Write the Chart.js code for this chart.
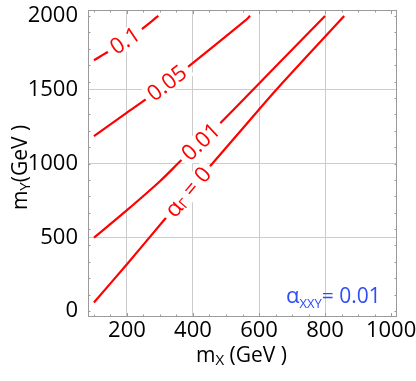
<!DOCTYPE html>
<html>
<head>
<meta charset="utf-8">
<script src="https://cdn.jsdelivr.net/npm/chart.js@4.4.0/dist/chart.umd.min.js"></script>
<style>
html, body { margin: 0; padding: 0; background: #fff; }
#wrap { width: 416px; height: 381px; }
</style>
</head>
<body>
<div id="wrap"><canvas id="chart"></canvas></div>
<script>
// contour lines of alpha_Gamma (GeV)
var levelNames = ["0.1", "0.05", "0.01", "0"];
var mX_a01 = [100, 152, 239, 295];
var mY_a01 = [1700, 1770, 1901, 2000];
var mX_a005 = [100, 200, 260, 386, 558, 573];
var mY_a005 = [1185, 1345, 1439, 1657, 1968, 2000];
var mX_a001 = [100, 200, 300, 366, 477, 542, 800];
var mY_a001 = [497, 684, 880, 1025, 1260, 1408, 2000];
var mX_a0 = [100, 200, 310, 457, 542, 651, 858];
var mY_a0 = [58, 318, 610, 995, 1215, 1497, 2000];
// m_X where each contour label sits
var labelAtX = [194, 321, 424, 385];

var xTicks = [200, 400, 600, 800, 1000];
var yTicks = [0, 500, 1000, 1500, 2000];

var FONT = "'Open Sans', 'Noto Sans', sans-serif";
var RED = "#ff0000";
var BLUE = "#2f4cf5";

var curvesX = [mX_a01, mX_a005, mX_a001, mX_a0];
var curvesY = [mY_a01, mY_a005, mY_a001, mY_a0];

function toPoints(xs, ys) {
    return xs.map(function (x, i) { return { x: x, y: ys[i] }; });
}

function interpY(xs, ys, x) {
    for (var i = 0; i < xs.length - 1; i++) {
        if (x >= xs[i] && x <= xs[i + 1]) {
            var t = (x - xs[i]) / (xs[i + 1] - xs[i]);
            return ys[i] + t * (ys[i + 1] - ys[i]);
        }
    }
    return ys[ys.length - 1];
}

// draw a run of text pieces: [text, size, drop]
function drawParts(ctx, parts, x, y, align) {
    var total = 0;
    parts.forEach(function (p) {
        ctx.font = p[1] + "px " + FONT;
        p.w = ctx.measureText(p[0]).width;
        total += p.w;
    });
    var cx = align === "center" ? x - total / 2 : x;
    parts.forEach(function (p) {
        ctx.font = p[1] + "px " + FONT;
        ctx.fillText(p[0], cx, y + p[2]);
        cx += p.w;
    });
    return total;
}

function measureParts(ctx, parts) {
    var total = 0;
    parts.forEach(function (p) {
        ctx.font = p[1] + "px " + FONT;
        total += ctx.measureText(p[0]).width;
    });
    return total;
}

var contourLabels = {
    id: "contourLabels",
    afterDatasetsDraw: function (chart) {
        var ctx = chart.ctx, sx = chart.scales.x, sy = chart.scales.y;
        levelNames.forEach(function (name, i) {
            var xs = curvesX[i], ys = curvesY[i], ax = labelAtX[i];
            var px = sx.getPixelForValue(ax);
            var py = sy.getPixelForValue(interpY(xs, ys, ax));
            var x1 = sx.getPixelForValue(ax - 25), y1 = sy.getPixelForValue(interpY(xs, ys, ax - 25));
            var x2 = sx.getPixelForValue(ax + 25), y2 = sy.getPixelForValue(interpY(xs, ys, ax + 25));
            var ang = Math.atan2(y2 - y1, x2 - x1);
            var parts = name === "0"
                ? [["\u03b1", 23, 0], ["\u0393", 14, 4], [" = 0", 22, 0]]
                : [[name, 22, 0]];
            var w = measureParts(ctx, parts);
            ctx.save();
            ctx.translate(px, py);
            ctx.rotate(ang);
            ctx.fillStyle = "#fff";
            ctx.fillRect(-w / 2 - 5, -10, w + 10, 20);
            ctx.fillStyle = RED;
            ctx.textBaseline = "middle";
            drawParts(ctx, parts, 0, 1, "center");
            ctx.restore();
        });
    }
};

var frameAndTitles = {
    id: "frameAndTitles",
    afterDraw: function (chart) {
        var ctx = chart.ctx, a = chart.chartArea, sx = chart.scales.x, sy = chart.scales.y;
        ctx.save();
        ctx.strokeStyle = "#9a9a9a";
        ctx.lineWidth = 1;
        ctx.strokeRect(Math.round(a.left) + 0.5, Math.round(a.top) + 0.5,
            Math.round(a.right - a.left) - 1, Math.round(a.bottom - a.top) - 1);
        ctx.beginPath();
        var v, p, len;
        for (v = 100; v <= 1000; v += 50) {
            p = Math.round(sx.getPixelForValue(v)) + 0.5;
            len = v % 200 === 0 ? 4 : 2.5;
            ctx.moveTo(p, a.bottom); ctx.lineTo(p, a.bottom - len);
            ctx.moveTo(p, a.top); ctx.lineTo(p, a.top + len);
        }
        for (v = 0; v <= 2000; v += 2000 / 18) {
            p = Math.round(sy.getPixelForValue(v)) + 0.5;
            ctx.moveTo(a.left, p); ctx.lineTo(a.left + 2.5, p);
            ctx.moveTo(a.right, p); ctx.lineTo(a.right - 2.5, p);
        }
        ctx.stroke();

        // axis titles
        ctx.fillStyle = "#000";
        ctx.textBaseline = "alphabetic";
        drawParts(ctx, [["m", 21, 0], ["X", 15, 3], [" (GeV )", 21, 0]],
            (a.left + a.right) / 2 - 1, 362, "center");
        ctx.save();
        ctx.translate(27, (a.top + a.bottom) / 2 + 4);
        ctx.rotate(-Math.PI / 2);
        drawParts(ctx, [["m", 21, 0], ["Y", 15, 3], ["(GeV )", 21, 0]], 0, 0, "center");
        ctx.restore();

        // coupling note
        ctx.fillStyle = BLUE;
        drawParts(ctx, [["\u03b1", 22, 0], ["XXY", 13, 5], ["= 0.01", 21, 0]], 286, 303, "left");
        ctx.restore();
    }
};

function gridColor(keep) {
    return function (c) {
        return c.tick && keep.indexOf(c.tick.value) >= 0 ? "#cccccc" : "rgba(0,0,0,0)";
    };
}

function plainLabel(v) { return String(v); }

function noEdgePadding(s) {
    s.paddingTop = 0; s.paddingBottom = 0;
    s.paddingLeft = 0; s.paddingRight = 0;
}

var datasets = levelNames.map(function (name, i) {
    return {
        label: name,
        data: toPoints(curvesX[i], curvesY[i]),
        showLine: true,
        borderColor: RED,
        borderWidth: 2.2,
        pointRadius: 0,
        tension: 0.3,
        fill: false
    };
});

new Chart(document.getElementById("chart"), {
    type: "scatter",
    data: { datasets: datasets },
    options: {
        responsive: true,
        maintainAspectRatio: false,
        animation: false,
        layout: { padding: { top: 10, right: 19, left: 0, bottom: 0 } },
        plugins: { legend: { display: false }, tooltip: { enabled: false } },
        scales: {
            x: {
                type: "linear",
                min: 82,
                max: 1018,
                afterBuildTicks: function (s) { s.ticks = xTicks.map(function (v) { return { value: v }; }); },
                afterFit: function (s) { s.height = 64; noEdgePadding(s); },
                ticks: { color: "#000", font: { family: FONT, size: 22 }, padding: 1, maxRotation: 0, autoSkip: false, callback: plainLabel },
                grid: { color: gridColor([200, 400, 600, 800]), drawTicks: false },
                border: { display: false }
            },
            y: {
                type: "linear",
                min: -40,
                max: 2040,
                afterBuildTicks: function (s) { s.ticks = yTicks.map(function (v) { return { value: v }; }); },
                afterFit: function (s) { s.width = 88; noEdgePadding(s); },
                ticks: { color: "#000", font: { family: FONT, size: 22 }, padding: 10, autoSkip: false, callback: plainLabel },
                grid: { color: gridColor([500, 1000, 1500]), drawTicks: false },
                border: { display: false }
            }
        }
    },
    plugins: [contourLabels, frameAndTitles]
});
</script>
</body>
</html>
